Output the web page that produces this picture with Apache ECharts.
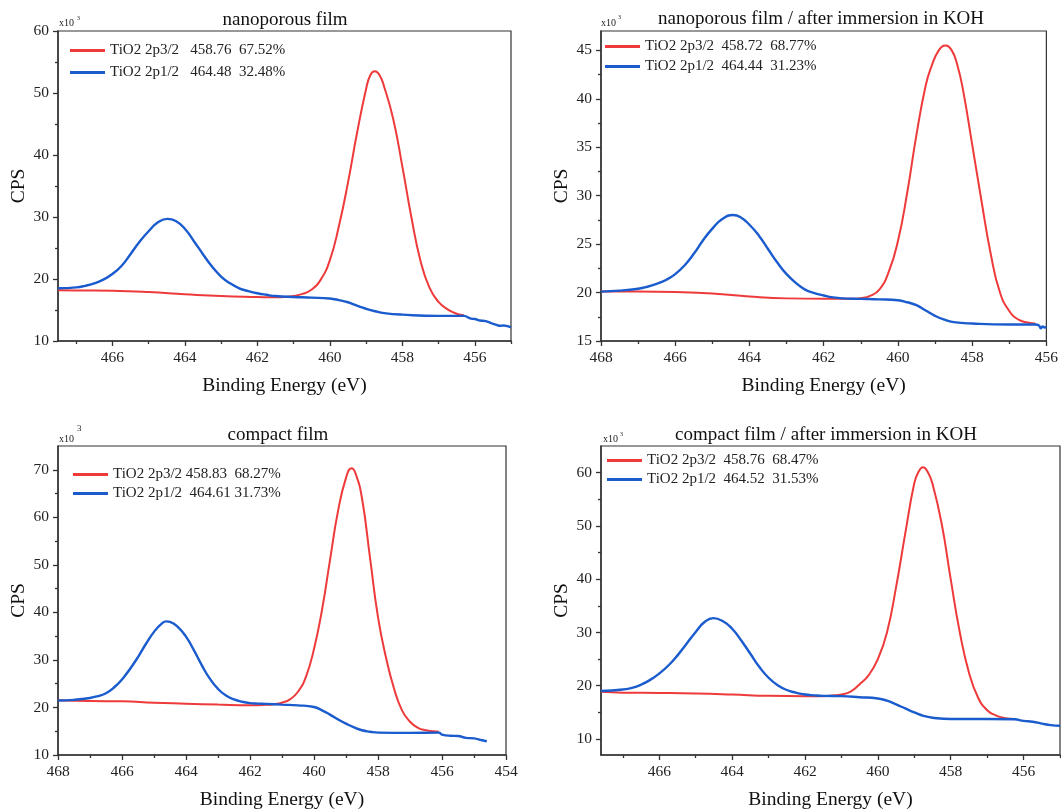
<!DOCTYPE html>
<html><head><meta charset="utf-8">
<script src="https://cdn.jsdelivr.net/npm/echarts@6/dist/echarts.min.js"></script>
<style>html,body{margin:0;padding:0;background:#fff}#main{width:1061px;height:811px}</style>
</head><body><div id="main"></div>
<script>
// ---------- DATA (binding energy eV, CPS x10^3) ----------
const nanoRed = [[467.5,18.2],[467,18.15],[466,18.1],[465,17.9],[464,17.55],[463,17.25],[462,17.1],[461.5,17.05],[461.25,17.1],[461,17.25],[460.75,17.6],[460.5,18.3],[460.25,19.9],[460,23],[459.75,28.5],[459.5,35.5],[459.25,43.5],[459,50.6],[458.88,52.9],[458.76,53.5],[458.63,52.9],[458.5,51],[458.25,45.8],[458,38.2],[457.75,30],[457.5,23],[457.25,18.6],[457,16.3],[456.75,15.1],[456.5,14.4],[456.3,14.15]];
const nanoBlue = [[467.5,18.5],[467,18.65],[466.75,18.9],[466.5,19.3],[466.25,19.9],[466,20.8],[465.75,22.1],[465.5,24],[465.25,26],[465,27.7],[464.75,29.1],[464.48,29.7],[464.25,29.35],[464,28.1],[463.75,26.1],[463.5,24],[463.25,22],[463,20.4],[462.75,19.3],[462.5,18.5],[462.25,18.05],[462,17.7],[461.75,17.45],[461.5,17.25],[461,17.1],[460.5,17],[460,16.85],[459.75,16.6],[459.5,16.25],[459.25,15.7],[459,15.2],[458.75,14.8],[458.5,14.5],[458,14.25],[457,14.05],[456.3,14.05],[456.1,13.6],[456,13.55],[455.85,13.3],[455.7,13.2],[455.55,12.9],[455.4,12.6],[455.3,12.45],[455.2,12.5],[455.1,12.4],[455,12.2]];

const nanoKohRed = [[468,20.1],[467,20.1],[466,20.05],[465,19.9],[464,19.6],[463,19.4],[462,19.35],[461.25,19.35],[461,19.42],[460.75,19.65],[460.5,20.3],[460.25,22.1],[460,25.3],[459.75,30.3],[459.5,36.3],[459.25,41.4],[459.1,43.3],[458.9,45],[458.72,45.5],[458.55,45],[458.4,43.5],[458.25,41],[458,35.3],[457.75,29.5],[457.5,24],[457.25,20],[457,18.1],[456.75,17.2],[456.5,16.9],[456.3,16.8]];
const nanoKohBlue = [[468,20.1],[467.5,20.2],[467,20.4],[466.75,20.6],[466.5,20.9],[466.25,21.3],[466,21.9],[465.75,22.8],[465.5,24],[465.25,25.4],[465,26.6],[464.75,27.55],[464.44,28],[464.25,27.8],[464,27],[463.75,25.9],[463.5,24.5],[463.25,23.1],[463,21.9],[462.75,21],[462.5,20.3],[462.25,19.95],[462,19.7],[461.75,19.5],[461.5,19.4],[461,19.35],[460.5,19.3],[460,19.2],[459.75,19],[459.5,18.7],[459.25,18.15],[459,17.6],[458.75,17.2],[458.5,16.95],[458,16.8],[457,16.7],[456.3,16.7],[456.2,16.6],[456.15,16.3],[456.1,16.5],[456.05,16.4],[456,16.5]];

const compactRed = [[468,21.5],[467,21.35],[466,21.3],[465,21],[464,20.8],[463,20.6],[462,20.45],[461.5,20.55],[461.25,20.7],[461,21],[460.75,21.7],[460.5,23.3],[460.25,26.5],[460,32.3],[459.75,40.5],[459.5,51],[459.25,61.3],[459,68.3],[458.83,70.3],[458.7,69.2],[458.5,64],[458.25,51.5],[458,39],[457.75,30.5],[457.5,24],[457.25,19.4],[457,17],[456.75,15.7],[456.5,15.2],[456.25,15],[456.1,14.9]];
const compactBlue = [[468,21.45],[467.5,21.6],[467,22],[466.75,22.4],[466.5,23],[466.25,24.2],[466,25.9],[465.75,28.1],[465.5,30.6],[465.25,33.4],[465,35.9],[464.75,37.7],[464.61,38.1],[464.5,38],[464.25,36.9],[464,34.9],[463.75,32],[463.5,28.8],[463.25,26],[463,23.9],[462.75,22.5],[462.5,21.7],[462.25,21.2],[462,20.9],[461.75,20.8],[461.5,20.75],[461,20.6],[460.5,20.45],[460,20.1],[459.75,19.4],[459.5,18.5],[459.25,17.5],[459,16.6],[458.75,15.8],[458.5,15.2],[458.25,14.9],[458,14.7],[457,14.65],[456.1,14.7],[456,14.3],[455.75,14.05],[455.5,14],[455.25,13.6],[455,13.5],[454.75,13.1],[454.6,12.9]];

const compactKohRed = [[467.6,18.85],[467,18.7],[466,18.65],[465,18.55],[464,18.35],[463,18.1],[462,18.05],[461.5,18.05],[461.25,18.15],[461,18.35],[460.75,18.9],[460.5,20.3],[460.25,22],[460,25],[459.75,30],[459.5,38.5],[459.25,48.5],[459,58],[458.88,60.2],[458.76,61],[458.63,60.1],[458.5,57.9],[458.25,50.5],[458,40],[457.75,30],[457.5,22.5],[457.25,17.8],[457,15.4],[456.75,14.4],[456.5,13.9],[456.25,13.75]];
const compactKohBlue = [[467.6,19],[467,19.3],[466.75,19.6],[466.5,20.2],[466.25,21.1],[466,22.3],[465.75,23.8],[465.5,25.7],[465.25,27.9],[465,30.1],[464.75,32],[464.52,32.7],[464.25,32.1],[464,30.7],[463.75,28.5],[463.5,26],[463.25,23.5],[463,21.5],[462.75,20.1],[462.5,19.2],[462.25,18.7],[462,18.35],[461.75,18.2],[461.5,18.1],[461,18.05],[460.5,17.85],[460,17.6],[459.75,17.2],[459.5,16.5],[459.25,15.75],[459,15],[458.75,14.35],[458.5,14],[458,13.75],[457,13.75],[456.25,13.7],[456,13.4],[455.75,13.25],[455.5,12.9],[455.25,12.6],[455,12.5]];

const titles = ['nanoporous film', 'nanoporous film / after immersion in KOH', 'compact film', 'compact film / after immersion in KOH'];
const legendNames = [
  ['TiO2 2p3/2   458.76  67.52%', 'TiO2 2p1/2   464.48  32.48%'],
  ['TiO2 2p3/2  458.72  68.77%', 'TiO2 2p1/2  464.44  31.23%'],
  ['TiO2 2p3/2 458.83  68.27%', 'TiO2 2p1/2  464.61 31.73%'],
  ['TiO2 2p3/2  458.76  68.47%', 'TiO2 2p1/2  464.52  31.53%']
];
const xMajor1 = [456,458,460,462,464,466];
const xMinor1 = [455,457,459,461,463,465,467];
const xMajor2 = [456,458,460,462,464,466,468];
const xMinor2 = [457,459,461,463,465,467];
const xMajor3 = [454,456,458,460,462,464,466,468];
const xMinor3 = [455,457,459,461,463,465,467];
const yMajor1 = [10,20,30,40,50,60];
const yMinor1 = [15,25,35,45,55];
const yMajor2 = [15,20,25,30,35,40,45];
const yMinor2 = [17.5,22.5,27.5,32.5,37.5,42.5];
const yMajor3 = [10,20,30,40,50,60,70];
const yMinor3 = [15,25,35,45,55,65];
const yMajor4 = [10,20,30,40,50,60];
const yMinor4 = [15,25,35,45,55];
const xName = 'Binding Energy (eV)';
const yName = 'CPS';

// ---------- LAYOUT ----------
const FONT = '"Liberation Serif", "Times New Roman", serif';
const RED = '#EE3A3A', BLUE = '#1A5BCD', AX = '#333';
const panels = [
  {grid:{left:58,top:31,width:453,height:310}, x:[455,467.5], y:[10,60], xMaj:xMajor1, xMin:xMinor1, yMaj:yMajor1, yMin:yMinor1, red:nanoRed, blue:nanoBlue, tx:285, ty:20, lg:{left:70,top:43,gap:7}},
  {grid:{left:601,top:31,width:448,height:310}, x:[456,468], y:[15,47], xMaj:xMajor2, xMin:xMinor2, yMaj:yMajor2, yMin:yMinor2, red:nanoKohRed, blue:nanoKohBlue, tx:821, ty:19, lg:{left:605,top:39,gap:5}},
  {grid:{left:58,top:446,width:448,height:310}, x:[454,468], y:[10,75], xMaj:xMajor3, xMin:xMinor3, yMaj:yMajor3, yMin:yMinor3, red:compactRed, blue:compactBlue, tx:278, ty:435, lg:{left:73,top:467,gap:4}},
  {grid:{left:601,top:446,width:459,height:310}, x:[455,467.6], y:[7,65], xMaj:xMajor1, xMin:xMinor1, yMaj:yMajor4, yMin:yMinor4, red:compactKohRed, blue:compactKohBlue, tx:826, ty:435, lg:{left:607,top:453,gap:4}}
];
const expo = [
  {x:59,y:23,sx:77,sy:18,s:6},
  {x:601,y:23,sx:618,sy:17,s:6},
  {x:59,y:439,sx:77,sy:429,s:9},
  {x:603,y:439,sx:620,sy:434,s:6}
];

const grids=[], xAxes=[], yAxes=[], series=[], legends=[], graphics=[];
panels.forEach((p,i)=>{
  grids.push(Object.assign({show:true, borderColor:AX, borderWidth:1.2, backgroundColor:'transparent'}, p.grid));
  const tickStyle = {color:AX, width:1.3};
  xAxes.push({type:'value', gridIndex:i, min:p.x[0], max:p.x[1], inverse:true, position:'bottom',
    axisLine:{show:true, onZero:false, lineStyle:{color:AX, width:1.5}},
    axisTick:{show:true, customValues:p.xMaj, length:5, lineStyle:tickStyle},
    axisLabel:{customValues:p.xMaj, fontFamily:FONT, fontSize:15.5, color:'#222', margin:9},
    splitLine:{show:false},
    name:xName, nameLocation:'middle', nameGap:35, nameTextStyle:{fontFamily:FONT, fontSize:19.5, color:'#111'}});
  xAxes.push({type:'value', gridIndex:i, min:p.x[0], max:p.x[1], inverse:true, position:'bottom',
    axisLine:{show:false, onZero:false}, axisTick:{show:true, customValues:p.xMin, length:3, lineStyle:tickStyle},
    axisLabel:{show:false}, splitLine:{show:false}});
  yAxes.push({type:'value', gridIndex:i, min:p.y[0], max:p.y[1], position:'left',
    axisLine:{show:true, onZero:false, lineStyle:{color:AX, width:1.5}},
    axisTick:{show:true, customValues:p.yMaj, length:5, lineStyle:tickStyle},
    axisLabel:{customValues:p.yMaj, fontFamily:FONT, fontSize:15.5, color:'#222', margin:9},
    splitLine:{show:false},
    name:yName, nameLocation:'middle', nameGap:29, nameTextStyle:{fontFamily:FONT, fontSize:19.5, color:'#111'}});
  yAxes.push({type:'value', gridIndex:i, min:p.y[0], max:p.y[1], position:'left',
    axisLine:{show:false, onZero:false}, axisTick:{show:true, customValues:p.yMin, length:3, lineStyle:tickStyle},
    axisLabel:{show:false}, splitLine:{show:false}});
  const names = legendNames[i];
  series.push({type:'line', name:names[0], xAxisIndex:2*i, yAxisIndex:2*i, data:p.red, showSymbol:false,
    smooth:0.5, lineStyle:{color:RED, width:2}, itemStyle:{color:RED}, z:2, silent:true});
  series.push({type:'line', name:names[1], xAxisIndex:2*i, yAxisIndex:2*i, data:p.blue, showSymbol:false,
    smooth:0.5, lineStyle:{color:BLUE, width:2.4}, itemStyle:{color:BLUE}, z:3, silent:true});
  legends.push({data:names, orient:'vertical', left:p.lg.left, top:p.lg.top, padding:0, itemGap:p.lg.gap,
    itemWidth:35, itemHeight:3, icon:'rect', selectedMode:false,
    textStyle:{fontFamily:FONT, fontSize:15, color:'#222'}});
  graphics.push({type:'text', x:p.tx, y:p.ty, style:{text:titles[i], font:'19px '+FONT, fill:'#111', align:'center', verticalAlign:'middle'}});
  const e = expo[i];
  graphics.push({type:'text', x:e.x, y:e.y, style:{text:'x10', font:'10px '+FONT, fill:'#222', align:'left', verticalAlign:'middle'}});
  graphics.push({type:'text', x:e.sx, y:e.sy, style:{text:'3', font:e.s+'px '+FONT, fill:'#222', align:'left', verticalAlign:'middle'}});
});

const chart = echarts.init(document.getElementById('main'), null, {renderer:'canvas'});
chart.setOption({
  animation:false, backgroundColor:'#fff',
  grid:grids, xAxis:xAxes, yAxis:yAxes, series:series, legend:legends, graphic:graphics
});
</script></body></html>
